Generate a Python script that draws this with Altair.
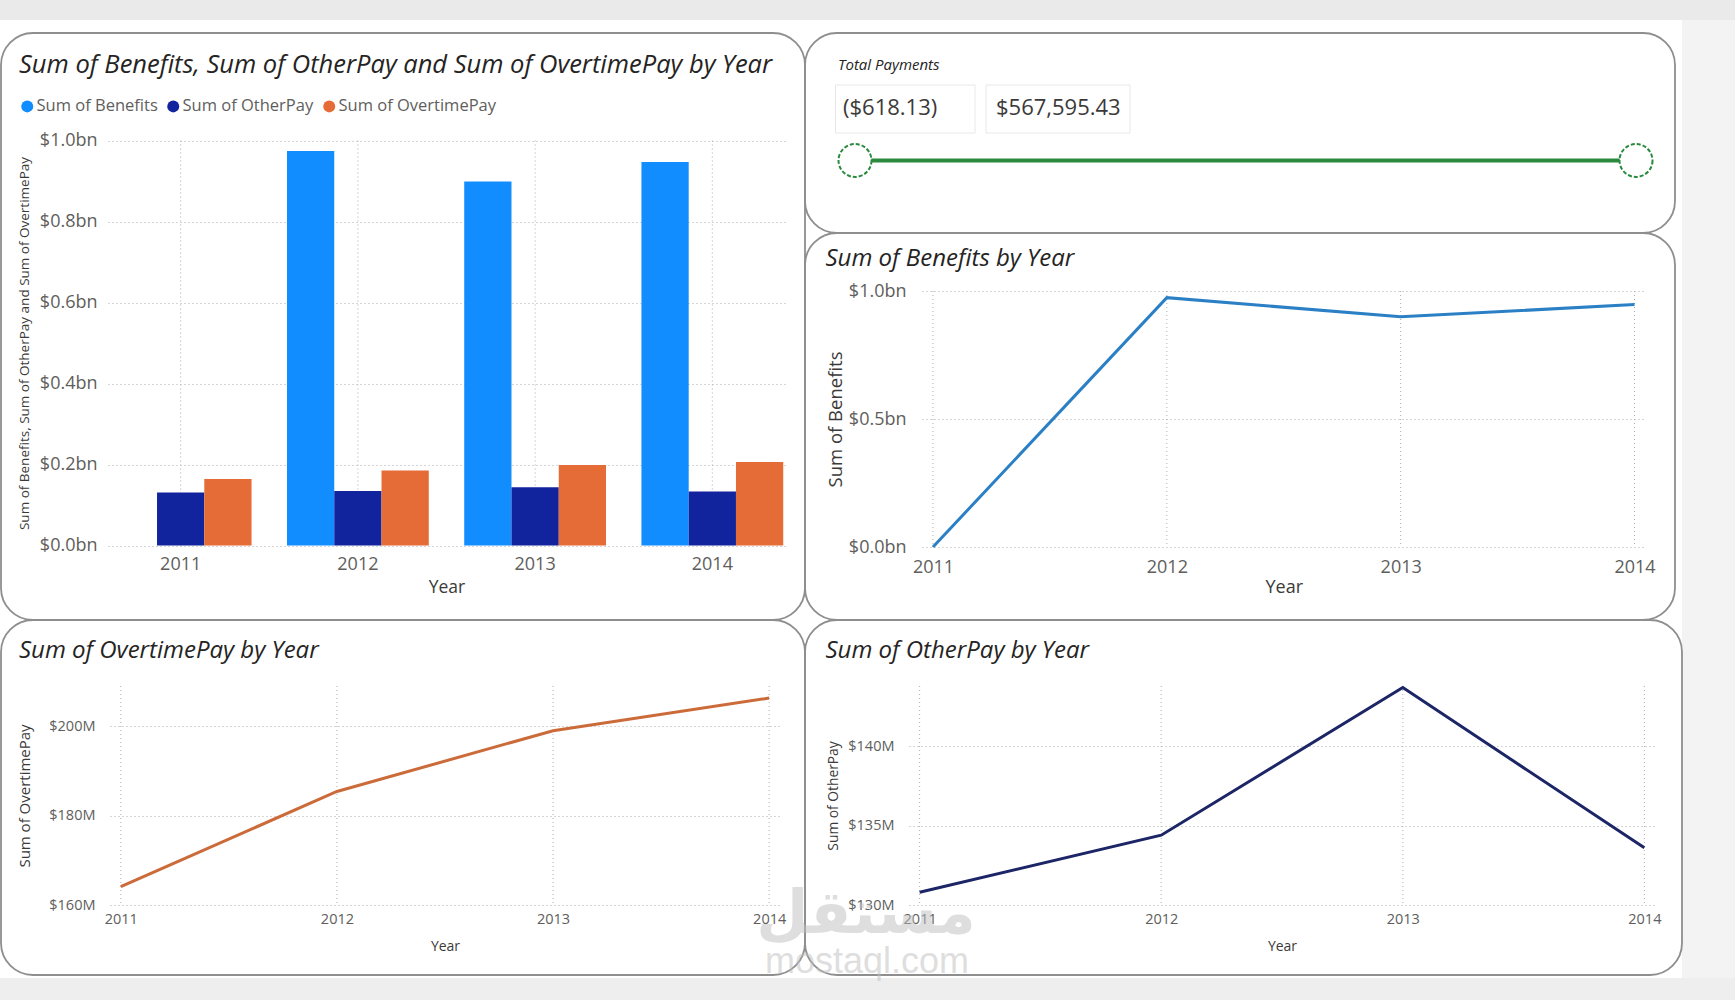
import altair as alt
import pandas as pd

# ---------------- data ----------------
years = ["2011", "2012", "2013", "2014"]
benefits = [0.0, 0.974e9, 0.899e9, 0.947e9]
other_pay = [130.8e6, 134.4e6, 143.7e6, 133.6e6]
overtime_pay = [164.1e6, 185.4e6, 199.0e6, 206.3e6]
series_names = ["Sum of Benefits", "Sum of OtherPay", "Sum of OvertimePay"]
series_colors = ["#118DFF", "#12239E", "#E66C37"]
payment_range = [-618.13, 567595.43]
bar_ticks = [0, 0.2e9, 0.4e9, 0.6e9, 0.8e9, 1.0e9]
benefit_ticks = [0, 0.5e9, 1.0e9]
overtime_ticks = [160e6, 180e6, 200e6]
other_ticks = [130e6, 135e6, 140e6]

W, H = 1735, 1000
FONT = "Open Sans"
LABEL = "#605E5C"
AXTITLE = "#3B3A39"
GRID = "#ADADAD"
TITLE = "#252423"

bar_df = pd.DataFrame({
    "Year": years * 3,
    "Series": [s for s in series_names for _ in years],
    "Value": benefits + other_pay + overtime_pay,
})
year_df = pd.DataFrame({"Year": years})
ben_df = pd.DataFrame({"Year": years, "Value": benefits})
ot_df = pd.DataFrame({"Year": years, "Value": overtime_pay})
op_df = pd.DataFrame({"Year": years, "Value": other_pay})
range_df = pd.DataFrame({"bound": ["min", "max"], "value": payment_range})
slider_df = pd.DataFrame({"lo": [payment_range[0]], "hi": [payment_range[1]]})

one = alt.Data(values=[{}])


def y_axis(x_pos, ticks, expr, size, pad, title, title_size, title_x):
    return alt.Axis(orient="left", offset=-x_pos, values=ticks, labelExpr=expr,
                    labelFont=FONT, labelFontSize=size, labelColor=LABEL, labelPadding=pad,
                    domain=False, ticks=False, grid=True, gridColor=GRID, gridDash=[1, 3],
                    gridWidth=1, title=title, titleFont=FONT, titleFontSize=title_size,
                    titleColor=AXTITLE, titleFontWeight="normal", titleX=title_x - x_pos,
                    titleBaseline="middle", titleAngle=270)


def x_axis(y_pos, size, pad, title_size, title_y, band=False):
    kw = dict(orient="bottom", offset=y_pos - H, labelFont=FONT, labelFontSize=size,
              labelColor=LABEL, labelPadding=pad, labelAngle=0, domain=False, ticks=False,
              grid=False, title="Year", titleFont=FONT, titleFontSize=title_size,
              titleColor=AXTITLE, titleFontWeight="normal", titleY=title_y - y_pos,
              titleBaseline="middle")
    if band:
        kw["bandPosition"] = 0.5
    return alt.Axis(**kw)


def vgrid(x_enc, top, bottom):
    # vertical dotted grid lines at each year, placed through the panel's own x scale
    return alt.Chart(year_df).mark_rule(color=GRID, strokeDash=[1, 3], strokeWidth=1).encode(
        x=x_enc, y=alt.value(top), y2=alt.value(bottom))


def box(x1, x2, y1, y2, color):
    return alt.Chart(one).mark_rect(fill=color).encode(
        x=alt.value(x1), x2=alt.value(x2), y=alt.value(y1), y2=alt.value(y2))


def frame(x1, x2, y1, y2):
    return alt.Chart(one).mark_rect(cornerRadius=32, fill="white", fillOpacity=0,
                                    stroke="#8E8E8E", strokeWidth=1.8).encode(
        x=alt.value(x1), x2=alt.value(x2), y=alt.value(y1), y2=alt.value(y2))


def label(text, x, y, size, italic=True, color=TITLE, align="left", font=FONT,
          weight="normal", opacity=1.0):
    return alt.Chart(one).mark_text(text=text, align=align, baseline="middle", font=font,
                                    fontSize=size, fontStyle="italic" if italic else "normal",
                                    fontWeight=weight, color=color, opacity=opacity).encode(
        x=alt.value(x), y=alt.value(y))


strips = [
    box(0, W, 0, 20, "#EAEAEA"),
    box(0, W, 978, H, "#EEEEEE"),
    box(1682, W, 20, 978, "#F3F3F3"),
]

frames = [
    frame(1, 805, 33, 620),
    frame(805, 1675, 33, 233),
    frame(805, 1675, 233, 620),
    frame(1, 805, 620, 975),
    frame(805, 1682, 620, 975),
]

# ---------------- Panel A: grouped bars ----------------
xa = alt.X("Year:N", sort=years,
           scale=alt.Scale(range=[108, 785], paddingInner=0.2, paddingOuter=0.01),
           axis=x_axis(545.5, 18, 10, 17.5, 587.5, band=True))
bars = alt.Chart(bar_df).mark_bar().encode(
    x=xa,
    xOffset=alt.XOffset("Series:N", sort=series_names,
                        scale=alt.Scale(paddingInner=0, paddingOuter=0)),
    y=alt.Y("Value:Q",
            scale=alt.Scale(domain=[0, 1e9], range=[545.5, 140.5], nice=False),
            axis=y_axis(105, bar_ticks, "'$' + format(datum.value / 1e9, '.1f') + 'bn'",
                        18, 8, "Sum of Benefits, Sum of OtherPay and Sum of OvertimePay",
                        13.5, 24.5)),
    color=alt.Color("Series:N", sort=series_names,
                    scale=alt.Scale(domain=series_names, range=series_colors),
                    legend=alt.Legend(title=None, orient="none", legendX=19, legendY=98,
                                      direction="horizontal", symbolType="circle",
                                      symbolSize=144, symbolStrokeWidth=0, labelFont=FONT,
                                      labelFontSize=16.5, labelColor=LABEL, columnPadding=7,
                                      labelOffset=1, padding=0)),
)
panel_a = alt.layer(vgrid(xa, 140.5, 545.5), bars)

# ---------------- Panel C: benefits line ----------------
xc = alt.X("Year:O", scale=alt.Scale(type="point", range=[922, 1645.5], padding=0.047),
           axis=x_axis(547, 18, 11, 18, 587.6))
line_c = alt.Chart(ben_df).mark_line(color="#2B80C5", strokeWidth=3).encode(
    x=xc,
    y=alt.Y("Value:Q", scale=alt.Scale(domain=[0, 1e9], range=[547, 291], nice=False),
            axis=y_axis(916, benefit_ticks, "'$' + format(datum.value / 1e9, '.1f') + 'bn'",
                        18, 10, "Sum of Benefits", 18.5, 835.5)),
)
panel_c = alt.layer(vgrid(xc, 291, 547), line_c)

# ---------------- Panel D: overtime line ----------------
xd = alt.X("Year:O", scale=alt.Scale(type="point", range=[110, 780], padding=0.05),
           axis=x_axis(905, 14.5, 7, 14, 946))
line_d = alt.Chart(ot_df).mark_line(color="#CC6B3A", strokeWidth=3).encode(
    x=xd,
    y=alt.Y("Value:Q", scale=alt.Scale(domain=[160e6, 209e6], range=[905, 686], nice=False,
                                       zero=False),
            axis=y_axis(107, overtime_ticks, "'$' + format(datum.value / 1e6, '.0f') + 'M'",
                        14.5, 12, "Sum of OvertimePay", 15, 24.3)),
)
panel_d = alt.layer(vgrid(xd, 686, 905), line_d)

# ---------------- Panel E: other pay line ----------------
xe = alt.X("Year:O", scale=alt.Scale(type="point", range=[909, 1655], padding=0.044),
           axis=x_axis(905, 14.5, 7, 14, 946))
line_e = alt.Chart(op_df).mark_line(color="#1C2566", strokeWidth=3).encode(
    x=xe,
    y=alt.Y("Value:Q", scale=alt.Scale(domain=[130e6, 143.8e6], range=[905, 686], nice=False,
                                       zero=False),
            axis=y_axis(909, other_ticks, "'$' + format(datum.value / 1e6, '.0f') + 'M'",
                        14.5, 15, "Sum of OtherPay", 13.8, 833)),
)
panel_e = alt.layer(vgrid(xe, 686, 905), line_e)

# ---------------- Panel B: slicer ----------------
slider_scale = alt.Scale(domain=payment_range, range=[855, 1636])
box1 = alt.Chart(one).mark_rect(fill="white", stroke="#E8E8E8", strokeWidth=1).encode(
    x=alt.value(835.5), x2=alt.value(975), y=alt.value(85), y2=alt.value(133))
box2 = alt.Chart(one).mark_rect(fill="white", stroke="#E8E8E8", strokeWidth=1).encode(
    x=alt.value(986), x2=alt.value(1130), y=alt.value(85), y2=alt.value(133))
val_min = alt.Chart(range_df).transform_filter("datum.bound == 'min'").mark_text(
    align="left", baseline="middle", font=FONT, fontSize=22, color="#3B3A39").encode(
    x=alt.value(843), y=alt.value(108), text=alt.Text("value:Q", format="($,.2f"))
val_max = alt.Chart(range_df).transform_filter("datum.bound == 'max'").mark_text(
    align="left", baseline="middle", font=FONT, fontSize=22, color="#3B3A39").encode(
    x=alt.value(996), y=alt.value(108), text=alt.Text("value:Q", format="($,.2f"))
slider_line = alt.Chart(slider_df).mark_rule(color="#2B8A3E", strokeWidth=4).encode(
    x=alt.X("lo:Q", scale=slider_scale, axis=None), x2="hi:Q", y=alt.value(160.5))
slider_knobs = alt.Chart(range_df).mark_point(shape="circle", size=1089, filled=True,
                                              fill="white", stroke="#2B8A3E", strokeWidth=2,
                                              strokeDash=[4, 2], opacity=1).encode(
    x=alt.X("value:Q", scale=slider_scale, axis=None), y=alt.value(160.5))
panel_b = alt.layer(slider_line, slider_knobs)

titles = [
    label("Sum of Benefits, Sum of OtherPay and Sum of OvertimePay by Year", 19, 65, 25.5),
    label("Sum of Benefits by Year", 825.5, 259, 24),
    label("Sum of OvertimePay by Year", 19, 651, 24),
    label("Sum of OtherPay by Year", 825.5, 651, 24),
    label("Total Payments", 838, 65, 15),
]

watermark = [
    label("مستقل", 866, 915, 60, italic=False, color="#BFBFBF", align="center",
          font="DejaVu Sans", weight="bold", opacity=0.5),
    label("mostaql.com", 867, 962, 36, italic=False, color="#BFBFBF", align="center",
          font="Liberation Sans", opacity=0.5),
]

chart = alt.layer(
    *strips, *frames, panel_a, panel_c, panel_d, panel_e,
    box1, box2, val_min, val_max, panel_b,
    *titles, *watermark,
).resolve_scale(x="independent", y="independent").properties(
    width=W, height=H, padding=0, background="white",
    autosize=alt.AutoSizeParams(type="none"),
).configure_view(strokeWidth=0)

chart.save("out.html", embed_options={"renderer": "svg", "actions": False})
